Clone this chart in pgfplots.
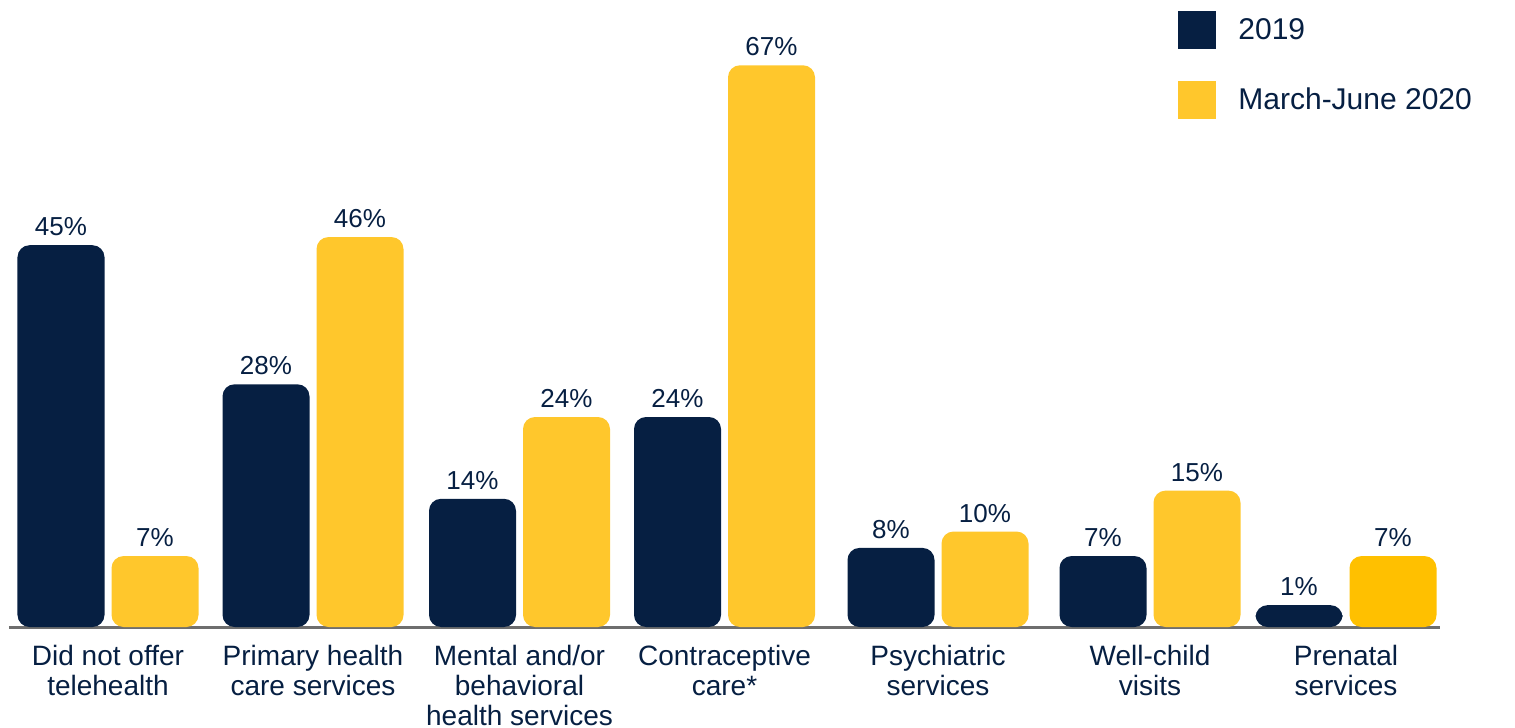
\documentclass[border=0pt]{standalone}
\usepackage{pgfplots}
\pgfplotsset{compat=1.18}
\usepackage{fontspec}
\setmainfont{Liberation Sans}

\definecolor{navy}{HTML}{061F42}
\definecolor{gold}{HTML}{FFC72C}
\definecolor{golddark}{HTML}{FFC000}
\definecolor{axgray}{HTML}{6E6E6E}

\pgfplotsset{
  sqlegend/.style={legend image code/.code={\fill[##1, sharp corners] (0pt,-9.5pt) rectangle (19pt,9.5pt);}}
}

\begin{document}
\begin{tikzpicture}
\begin{axis}[
    scale only axis,
    width=715.5pt, height=313.5pt,
    xmin=9, xmax=1440, ymin=0, ymax=76.65,
    ybar, bar width=43.5pt,
    axis x line=bottom, axis y line=none,
    x axis line style={-, axgray, line width=1.5pt},
    xtick={108,313,519.5,724.5,938,1150,1346},
    xticklabels={Did not offer\\telehealth, Primary health\\care services, Mental and/or\\behavioral\\health services, Contraceptive\\care*, Psychiatric\\services, Well-child\\visits, Prenatal\\services},
    major tick length=0pt,
    xticklabel style={align=center, text=navy, font=\fontsize{14}{15}\selectfont, yshift=-5.5pt},
    /pgf/number format/assume math mode=true,
    % bars in the reference sit a little above their nominal height
    y filter/.code={\pgfmathparse{\pgfmathresult+1.67}},
    point meta=rawy,
    nodes near coords={\pgfmathprintnumber{\pgfplotspointmeta}\%},
    every node near coord/.append style={text=navy, font=\fontsize{13}{14}\selectfont, yshift=1pt},
    clip=false,
    every axis plot post/.append style={sqlegend},
    legend style={at={(axis cs:1178,75.3)}, anchor=north west, draw=none, fill=none,
      font=\fontsize{15}{18}\selectfont, text=navy, row sep=16pt, inner sep=0pt,
      column sep=9pt},
    legend cell align=left,
]
\addplot[fill=navy, draw=none, rounded corners=6pt, bar shift=-23.5pt] coordinates {
  (108,45) (313,28) (519.5,14) (724.5,24) (938,8) (1150,7) (1346,1)
};
\addlegendentry{2019}
\addplot[fill=gold, draw=none, rounded corners=6pt, bar shift=23.5pt] coordinates {
  (108,7) (313,46) (519.5,24) (724.5,67) (938,10) (1150,15)
};
\addlegendentry{March-June 2020}
\addplot[fill=golddark, draw=none, rounded corners=6pt, bar shift=23.5pt, forget plot] coordinates {
  (1346,7)
};
\coordinate (o) at (axis cs:9,0);
\end{axis}
\pgfresetboundingbox
\path (o) ++(-4.5pt,-50.5pt) rectangle ++(757.5pt,364pt);
\end{tikzpicture}
\end{document}
